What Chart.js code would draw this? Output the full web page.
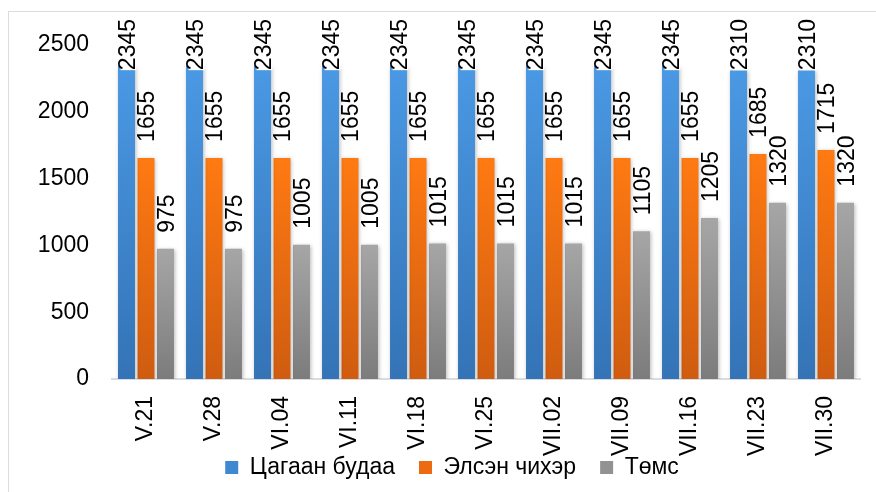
<!DOCTYPE html>
<html>
<head>
<meta charset="utf-8">
<script src="https://cdn.jsdelivr.net/npm/chart.js@4/dist/chart.umd.min.js"></script>
<style>
  html,body{margin:0;padding:0;background:#fff;}
  #wrap{position:relative;width:876px;height:492px;}
  #frame{position:absolute;left:8px;top:11px;width:900px;height:500px;border:1px solid #d9dde2;box-sizing:border-box;pointer-events:none;}
</style>
</head>
<body>
<div id="wrap">
  <div id="frame"></div>
  <canvas id="c" width="876" height="492"></canvas>
</div>
<script>
const labels = ["V.21","V.28","VI.04","VI.11","VI.18","VI.25","VII.02","VII.09","VII.16","VII.23","VII.30"];
const rice   = [2345,2345,2345,2345,2345,2345,2345,2345,2345,2310,2310];
const sugar  = [1655,1655,1655,1655,1655,1655,1655,1655,1655,1685,1715];
const potato = [975,975,1005,1005,1015,1015,1015,1105,1205,1320,1320];
const seriesNames = ["Цагаан будаа","Элсэн чихэр","Төмс"];
const yTicks = [0,500,1000,1500,2000,2500];

const FONT = "'Liberation Sans', Arial, sans-serif";
const grads = [["#4a99e4","#3473b6"],["#ff7a12","#cf5c10"],["#a6a6a6","#7c7c7c"]];
const solids = ["#3f88d2","#ec6b12","#929292"];

function barFill(i){
  return function(ctx){
    const chart = ctx.chart;
    const area = chart.chartArea;
    if(!area || ctx.dataIndex === undefined) return solids[i];
    const v = chart.data.datasets[ctx.datasetIndex].data[ctx.dataIndex];
    const y = chart.scales.y;
    const top = y.getPixelForValue(v), bot = y.getPixelForValue(0);
    const g = chart.ctx.createLinearGradient(0, top, 0, bot);
    g.addColorStop(0, grads[i][0]);
    g.addColorStop(1, grads[i][1]);
    return g;
  };
}

const shadowPlugin = {
  id:"shadow",
  beforeDatasetsDraw(chart){
    const c = chart.ctx;
    c.save();
    c.shadowColor = "rgba(0,0,0,0.28)";
    c.shadowBlur = 4;
    c.shadowOffsetX = 1;
    c.shadowOffsetY = 1;
  },
  afterDatasetsDraw(chart){
    chart.ctx.restore();
  }
};

const valueLabels = {
  id:"valueLabels",
  afterDatasetsDraw(chart){
    const c = chart.ctx;
    c.save();
    c.font = "23px " + FONT;
    c.textAlign = "left";
    c.textBaseline = "middle";
    chart.data.datasets.forEach((ds, di) => {
      chart.getDatasetMeta(di).data.forEach((bar, i) => {
        const txt = String(ds.data[i]);
        const w = c.measureText(txt).width;
        let start = bar.y - 16;
        if(start - w < 19) start = 19 + w;
        c.save();
        c.translate(bar.x + 2, start);
        c.rotate(-Math.PI/2);
        c.fillStyle = "#fff";
        c.fillRect(0, -8, w, 16);
        c.fillStyle = "#000";
        c.fillText(txt, 0, 0);
        c.restore();
      });
    });
    c.restore();
  }
};

// legend sits a bit higher and further right in the original
const legendShift = {
  id:"legendShift",
  afterLayout(chart){
    const l = chart.legend;
    if(!l) return;
    l.top -= 27;
    l.left += 22; l.right += 22;
  }
};

new Chart(document.getElementById("c").getContext("2d"), {
  type:"bar",
  data:{
    labels: labels,
    datasets:[
      { label:seriesNames[0], data:rice,   backgroundColor:barFill(0) },
      { label:seriesNames[1], data:sugar,  backgroundColor:barFill(1) },
      { label:seriesNames[2], data:potato, backgroundColor:barFill(2) }
    ]
  },
  options:{
    responsive:false,
    animation:false,
    categoryPercentage:0.86,
    barPercentage:0.87,
    layout:{ padding:{ top:45, right:16, bottom:0, left:0 } },
    scales:{
      x:{
        grid:{ display:false },
        border:{ display:true, color:"#d9dde2", width:2 },
        ticks:{ minRotation:90, maxRotation:90, padding:9, color:"#000", font:{ size:23, family:FONT } },
        afterFit(s){ s.height = 80; }
      },
      y:{
        min:0, max:2500,
        afterBuildTicks(s){ s.ticks = yTicks.map(v => ({ value:v })); },
        grid:{ display:false },
        border:{ display:false },
        ticks:{ padding:15, color:"#000", font:{ size:23, family:FONT }, callback:v => String(v) },
        afterFit(s){ s.width = 112; }
      }
    },
    plugins:{
      legend:{
        position:"bottom",
        maxHeight:33,
        labels:{
          boxWidth:13, boxHeight:13, padding:24, color:"#000",
          font:{ size:23, family:FONT },
          generateLabels(chart){
            return seriesNames.map((n, i) => ({ text:n, fillStyle:solids[i], strokeStyle:solids[i], lineWidth:0, datasetIndex:i }));
          }
        }
      },
      tooltip:{ enabled:false }
    }
  },
  plugins:[shadowPlugin, valueLabels, legendShift]
});
</script>
</body>
</html>
